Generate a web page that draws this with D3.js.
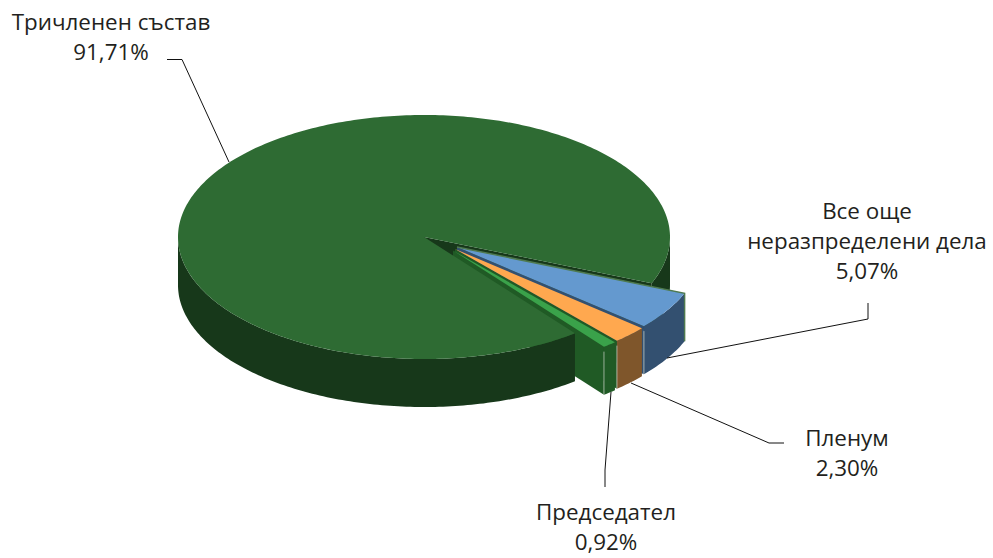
<!DOCTYPE html>
<html lang="bg">
<head>
  <meta charset="UTF-8">
  <title>Разпределение на делата</title>
  <script src="https://d3js.org/d3.v7.min.js"></script>
  <style>
    html, body { margin: 0; padding: 0; background: #fff; }
    svg { display: block; }
    text { font-family: "Open Sans", "Noto Sans", sans-serif; font-size: 22.4px; fill: #231f20; text-anchor: middle; }
  </style>
</head>

<body>

  <div id="chart"></div>

  <script type="text/javascript">

  var w = 993;
  var h = 558;

  // data, in drawing order (the pie starts at the cut on the right)
  var categories = ["Все още неразпределени дела", "Пленум", "Председател", "Тричленен състав"];
  var shares = [5.07, 2.30, 0.92, 91.71];
  var valueLabels = ["5,07%", "2,30%", "0,92%", "91,71%"];

  var topColors = ["#6499cf", "#ffa84f", "#3aa24a", "#2e6b33"];
  var wallColors = ["#335070", "#7f562b", "#205a25", "#17381a"];
  var sideColors = ["#335070", "#205a25", "#205a25", "#17381a"]; // orange slice shows no brown side in the original

  // pie geometry
  var cx = 424, cy = 237, rx = 246, ry = 122, depth = 48;
  var startAngle = (22.3 + 90) * Math.PI / 180;

  // how far each small slice is pulled out, in pixels
  var pullX = [33, 31, 29, 0];
  var pullY = [10, 12, 13.5, 0];

  var x = d3.scaleLinear().domain([-1, 1]).range([cx - rx, cx + rx]);
  var y = d3.scaleLinear().domain([-1, 1]).range([cy - ry, cy + ry]);

  var pie = d3.pie().sort(null).startAngle(startAngle).endAngle(startAngle + 2 * Math.PI);
  var slices = pie(shares);

  var line = d3.line();

  var svg = d3.select("#chart")
    .append("svg")
    .attr("width", w)
    .attr("height", h);

  // point on the rim, shifted for the slice and dropped by dz
  function rim(a, i, dz) {
    return [x(Math.sin(a)) + pullX[i], y(-Math.cos(a)) + pullY[i] + dz];
  }

  function apex(i) {
    return [x(0) + pullX[i], y(0) + pullY[i]];
  }

  function arcPoints(a0, a1, i, dz) {
    var n = Math.max(2, Math.ceil((a1 - a0) * 60));
    return d3.range(n + 1).map(k => rim(a0 + (a1 - a0) * k / n, i, dz));
  }

  function topPath(d, i) {
    return line([apex(i)].concat(arcPoints(d.startAngle, d.endAngle, i, 0))) + "Z";
  }

  // side of the slice that faces the viewer (the end angle)
  function sidePath(d, i) {
    var p = rim(d.endAngle, i, 0);
    var c = apex(i);
    return line([c, p, [p[0], p[1] + depth], [c[0], c[1] + depth]]) + "Z";
  }

  // outer wall pieces: only where the rim is on the viewer's side
  function wallPaths(d, i) {
    var out = [];
    [0.5, 2.5].forEach(function(k) {
      var a0 = Math.max(d.startAngle, k * Math.PI);
      var a1 = Math.min(d.endAngle, (k + 1) * Math.PI);
      if (a1 > a0) {
        var top = arcPoints(a0, a1, i, 0);
        var bottom = arcPoints(a0, a1, i, depth).reverse();
        out.push({a0: a0, path: line(top.concat(bottom)) + "Z"});
      }
    });
    return out;
  }

  var mainIdx = 3;
  var mainWalls = wallPaths(slices[mainIdx], mainIdx);
  var rightWall = mainWalls.filter(m => m.a0 > 2 * Math.PI);
  var frontWall = mainWalls.filter(m => m.a0 < 2 * Math.PI);

  // back part of the big slice: right wall and its cut face
  svg.selectAll("path.back-wall")
    .data(rightWall)
    .enter()
    .append("path")
    .attr("class", "back-wall")
    .attr("fill", wallColors[mainIdx])
    .attr("d", d => d.path);

  var cutEnd = rim(slices[mainIdx].endAngle, mainIdx, 0);
  svg.append("path")
    .attr("fill", wallColors[mainIdx])
    .attr("d", line([apex(mainIdx), cutEnd, [cutEnd[0], cutEnd[1] + depth], [x(0), y(0) + depth]]) + "Z");

  // small slices
  var small = slices.slice(0, mainIdx);
  var groups = svg.selectAll("g.small")
    .data(small)
    .enter()
    .append("g")
    .attr("class", "small");

  groups.append("path")
    .attr("fill", (d, i) => sideColors[i])
    .attr("d", (d, i) => sidePath(d, i));

  groups.each(function(d, i) {
    d3.select(this).selectAll("path.wall")
      .data(wallPaths(d, i))
      .enter()
      .append("path")
      .attr("class", "wall")
      .attr("fill", wallColors[i])
      .attr("d", m => m.path);
  });

  groups.append("path")
    .attr("fill", (d, i) => topColors[i])
    .attr("d", (d, i) => topPath(d, i));

  // thin light line on the front corner of each small slice
  groups.append("path")
    .attr("fill", "none")
    .attr("stroke", "#cfd6cc")
    .attr("stroke-width", 0.7)
    .attr("d", function(d, i) {
      var p = rim(d.endAngle, i, 0);
      return line([[p[0], p[1] + depth * 0.1], [p[0], p[1] + depth]]);
    });

  // olive edge along the top of the blue slice
  var blueEdge = rim(slices[0].startAngle, 0, 0);
  svg.append("path")
    .attr("fill", "none")
    .attr("stroke", "#4f7a4f")
    .attr("stroke-width", 1.5)
    .attr("d", line([apex(0), blueEdge, [blueEdge[0], blueEdge[1] + depth]]));

  // front of the big slice goes over the small slices' hidden faces
  svg.selectAll("path.front-wall")
    .data(frontWall)
    .enter()
    .append("path")
    .attr("class", "front-wall")
    .attr("fill", wallColors[mainIdx])
    .attr("d", d => d.path);

  svg.append("path")
    .attr("fill", topColors[mainIdx])
    .attr("d", topPath(slices[mainIdx], mainIdx));

  // labels and leader lines, same order as categories
  var labelLines = [
    ["Все още", "неразпределени дела", valueLabels[0]],
    ["Пленум", valueLabels[1]],
    ["Председател", valueLabels[2]],
    ["Тричленен състав", valueLabels[3]]
  ];
  var labelX = [867, 847, 606, 111];
  var labelY = [219, 446, 520, 30];
  var leaders = [
    [[868, 303], [868, 319], [667, 358]],
    [[631, 383], [769, 443], [784, 443]],
    [[611, 392], [605, 470], [605, 487]],
    [[167, 59.5], [182, 59.5], [229, 162]]
  ];

  svg.selectAll("path.leader")
    .data(leaders)
    .enter()
    .append("path")
    .attr("class", "leader")
    .attr("fill", "none")
    .attr("stroke", "#111")
    .attr("stroke-width", 1)
    .attr("d", d => line(d));

  var labels = svg.selectAll("text.label")
    .data(labelLines)
    .enter()
    .append("text")
    .attr("class", "label")
    .attr("y", (d, i) => labelY[i]);

  labels.selectAll("tspan")
    .data((d, i) => d.map(t => ({t: t, i: i})))
    .enter()
    .append("tspan")
    .attr("x", d => labelX[d.i])
    .attr("dy", (d, k) => k ? 30 : 0)
    .text(d => d.t);

  </script>
</body>
</html>
